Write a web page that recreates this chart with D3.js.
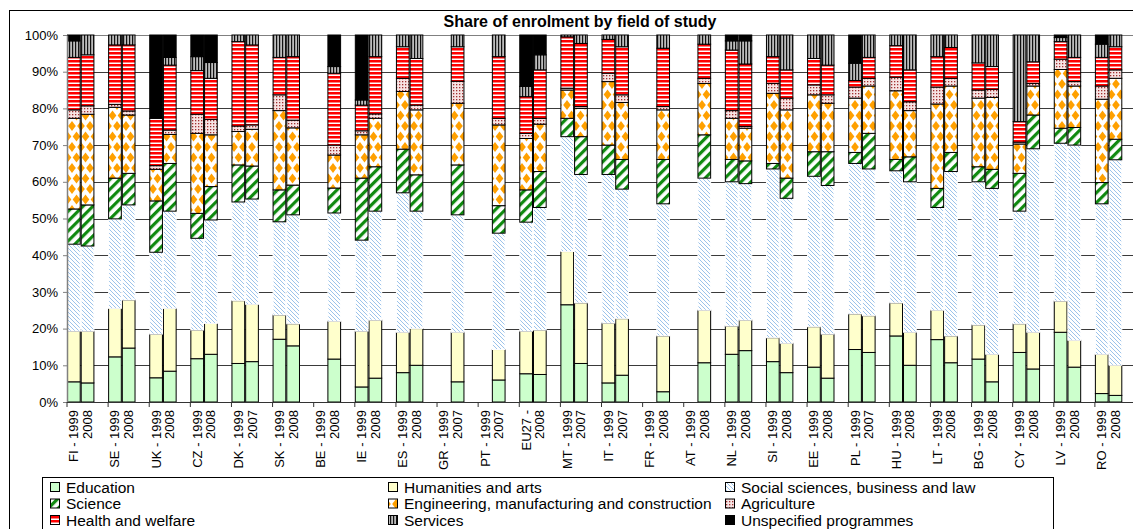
<!DOCTYPE html>
<html>
<head>
<meta charset="utf-8">
<script src="https://cdn.jsdelivr.net/npm/d3@7"></script>
<style>
  body { margin: 0; background: #fff; }
  text { font-family: "Liberation Sans", Arial, sans-serif; }
</style>
</head>
<body>
<div id="chart"></div>
<script>
// Countries, each with a 1999 bar and a latest-year bar (null = no data)
const countries = ["FI","SE","UK","CZ","DK","SK","BE","IE","ES","GR","PT","EU27","MT","IT","FR","AT","NL","SI","EE","PL","HU","LT","BG","CY","LV","RO"];
const labelsA = ["FI - 1999","SE - 1999","UK - 1999","CZ - 1999","DK - 1999","SK - 1999","BE - 1999","IE - 1999","ES - 1999","GR - 1999","PT - 1999","EU27 -","MT - 1999","IT - 1999","FR - 1999","AT - 1999","NL - 1999","SI - 1999","EE - 1999","PL - 1999","HU - 1999","LT - 1999","BG - 1999","CY - 1999","LV - 1999","RO - 1999"];
const labelsB = ["2008","2008","2008","2008","2007","2008","2008","2008","2008","2007","2007","2008","2007","2007","2008","2008","2008","2008","2008","2007","2008","2008","2008","2008","2008","2008"];

const fields = ["Education","Humanities and arts","Social sciences, business and law","Science","Engineering, manufacturing and construction","Agriculture","Health and welfare","Services","Unspecified programmes"];

// Shares in %, pairs per country: [1999, latest]
const education = [5.5,5.2, 12.3,14.7, 6.6,8.4, 11.8,13.0, 10.5,11.0, 17.1,15.3, null,11.7, 4.1,6.5, 8.0,10.0, null,5.5, null,6.0, 7.7,7.5, 26.5,10.5, 5.2,7.3, null,2.8, null,10.7, 13.0,14.0, 11.0,8.0, 9.5,6.5, 14.3,13.5, 18.0,10.0, 17.0,10.7, 11.7,5.5, 13.5,9.0, 19.0,9.5, 2.3,1.8];
const humanities = [13.8,14.1, 13.2,13.1, 11.9,17.1, 7.8,8.4, 17.1,15.6, 6.6,6.0, null,10.3, 15.2,15.8, 11.0,10.0, null,13.5, null,8.3, 11.6,12.1, 14.5,16.5, 16.3,15.4, null,15.2, null,14.3, 7.7,8.3, 6.5,8.0, 11.0,12.0, 9.7,10.0, 9.0,9.0, 8.0,7.3, 9.3,7.5, 7.8,10.0, 8.5,7.3, 10.7,8.2];
const social = [23.7,23.2, 24.4,25.9, 22.3,26.5, 25.0,28.2, 26.9,28.7, 25.4,29.7, null,29.5, 24.8,29.7, 38.0,32.0, null,32.0, null,31.7, 29.7,33.4, 31.3,35.0, 40.5,35.3, null,36.0, null,36.0, 39.3,37.2, 46.0,39.5, 41.0,40.5, 41.0,40.0, 36.0,41.0, 28.0,44.8, 39.0,45.2, 30.7,50.0, 43.0,53.2, 41.0,56.0];
const science = [9.6,11.2, 11.1,8.6, 14.0,13.0, 6.8,9.1, 10.1,9.0, 8.7,8.1, null,6.8, 16.9,12.1, 11.9,9.9, null,13.6, null,7.5, 8.8,9.8, 5.0,10.3, 8.0,8.1, null,12.1, null,11.8, 6.1,6.2, 1.5,5.5, 6.7,9.2, 3.0,9.7, 3.1,6.8, 5.2,5.2, 4.1,5.2, 10.3,9.2, 4.1,4.8, 5.8,5.6];
const engineering = [24.7,24.7, 19.3,15.9, 8.6,7.9, 21.8,14.1, 9.1,10.0, 21.6,15.6, null,9.0, 11.8,13.2, 15.7,17.7, null,16.8, null,22.0, 14.0,12.9, 7.7,7.7, 17.3,15.5, null,13.5, null,14.0, 11.2,8.9, 19.1,18.6, 15.5,13.2, 14.8,12.9, 18.7,12.6, 23.0,18.1, 18.7,19.6, 8.0,7.9, 16.0,11.3, 22.7,16.6];
const agriculture = [2.3,2.3, 0.8,1.1, 1.0,1.2, 5.2,4.2, 1.5,1.2, 4.3,2.1, null,2.7, 1.1,1.2, 3.6,1.3, null,6.0, null,1.8, 1.4,1.6, 0.5,0.5, 2.3,2.1, null,0.9, null,1.4, 2.1,0.5, 2.7,3.2, 2.7,2.3, 3.0,2.1, 3.7,2.4, 4.6,2.1, 2.2,2.2, 0.5,0.7, 2.8,1.2, 3.6,2.3];
const health = [14.3,13.9, 16.2,18.0, 12.9,17.7, 11.9,11.2, 23.0,21.8, 10.2,17.3, null,19.6, 7.0,15.6, 8.6,12.7, null,9.4, null,16.8, 10.0,13.2, 14.0,17.2, 9.2,13.1, null,15.9, null,9.3, 16.5,17.0, 7.3,7.7, 7.2,8.1, 1.8,5.7, 8.6,8.7, 8.3,8.4, 7.4,6.2, 5.6,5.9, 4.8,6.6, 7.8,6.3];
const services = [4.5,5.4, 2.7,2.7, 0,2.1, 3.8,4.3, 1.8,2.7, 6.1,5.9, null,1.8, 1.4,5.9, 3.2,6.4, null,3.2, null,5.9, 2.8,4.1, 0.5,2.3, 1.2,3.2, null,3.6, null,2.5, 2.5,6.3, 5.9,9.5, 6.4,8.2, 4.7,6.1, 2.9,9.5, 5.9,3.4, 7.6,8.6, 23.6,7.3, 1.1,6.1, 3.6,3.2];
const unspecified = [1.6,0, 0,0, 22.7,6.1, 5.9,7.5, 0,0, 0,0, null,8.6, 17.7,0, 0,0, null,0, null,0, 14.0,5.4, 0,0, 0,0, null,0, null,0, 1.6,1.6, 0,0, 0,0, 7.7,0, 0,0, 0,0, 0,0, 0,0, 0.7,0, 2.5,0];

const yTicks = [0,10,20,30,40,50,60,70,80,90,100];

const seriesValues = [education, humanities, social, science, engineering, agriculture, health, services, unspecified];

// Layout
const W = 1133, H = 529;
const plot = { left: 67, right: 1136, top: 35, bottom: 402 };

const svg = d3.select("#chart")
  .append("svg")
  .attr("width", W)
  .attr("height", H);

// Fill patterns (Excel style)
const defs = svg.append("defs");

let p = defs.append("pattern").attr("id", "p-soc").attr("patternUnits", "userSpaceOnUse")
  .attr("width", 4).attr("height", 4);
p.append("rect").attr("width", 4).attr("height", 4).attr("fill", "#fff");
p.append("path").attr("d", "M-1,-1 L5,5 M-1,3 L1,5 M3,-1 L5,1")
  .attr("stroke", "#9cc3ea").attr("stroke-width", 1);

p = defs.append("pattern").attr("id", "p-sci").attr("patternUnits", "userSpaceOnUse")
  .attr("width", 7).attr("height", 7).attr("patternTransform", "rotate(45)");
p.append("rect").attr("width", 7).attr("height", 7).attr("fill", "#fff");
p.append("rect").attr("width", 3.2).attr("height", 7).attr("fill", "#108a10");

p = defs.append("pattern").attr("id", "p-eng").attr("patternUnits", "userSpaceOnUse")
  .attr("width", 9).attr("height", 21);
p.append("rect").attr("width", 9).attr("height", 21).attr("fill", "#fff");
[[0,0],[9,0],[0,21],[9,21],[4.5,10.5]].forEach(c => {
  p.append("path")
    .attr("d", `M${c[0]},${c[1]-5} L${c[0]+3.8},${c[1]} L${c[0]},${c[1]+5} L${c[0]-3.8},${c[1]} Z`)
    .attr("fill", "#ffa000");
});

p = defs.append("pattern").attr("id", "p-agr").attr("patternUnits", "userSpaceOnUse")
  .attr("width", 3).attr("height", 3);
p.append("rect").attr("width", 3).attr("height", 3).attr("fill", "#f6e4e4");
p.append("rect").attr("width", 1.3).attr("height", 1.3).attr("fill", "#a03030");

p = defs.append("pattern").attr("id", "p-hea").attr("patternUnits", "userSpaceOnUse")
  .attr("width", 4).attr("height", 4);
p.append("rect").attr("width", 4).attr("height", 4).attr("fill", "#fff");
p.append("rect").attr("width", 4).attr("height", 2.5).attr("fill", "#ff0000");

p = defs.append("pattern").attr("id", "p-ser").attr("patternUnits", "userSpaceOnUse")
  .attr("width", 3).attr("height", 3);
p.append("rect").attr("width", 3).attr("height", 3).attr("fill", "#bdbdbd");
p.append("rect").attr("width", 1.2).attr("height", 3).attr("fill", "#111");

const fills = ["#ccffcc", "#ffffcc", "url(#p-soc)", "url(#p-sci)", "url(#p-eng)", "url(#p-agr)", "url(#p-hea)", "url(#p-ser)", "#000"];
const strokes = ["#000", "#000", "#fff", "#000", "#000", "#000", "#000", "#000", "#000"];

// Outer frame
svg.append("rect")
  .attr("x", 9.5).attr("y", 10.5)
  .attr("width", W + 20).attr("height", H + 20)
  .attr("fill", "none").attr("stroke", "#000");

// Title
svg.append("text")
  .attr("x", 580).attr("y", 27)
  .attr("text-anchor", "middle")
  .style("font-size", "16px")
  .style("font-weight", "bold")
  .text("Share of enrolment by field of study");

// Scales: three slots per country (1999, latest, gap)
const slots = [];
countries.forEach((c, i) => { slots.push(i + "-0", i + "-1", i + "-2"); });

const x = d3.scaleBand()
  .domain(slots)
  .range([plot.left, plot.right])
  .padding(0);

const y = d3.scaleLinear()
  .domain([0, 100])
  .range([plot.bottom, plot.top]);

// Gridlines
svg.append("g")
  .selectAll("line")
  .data(yTicks.filter(d => d > 0))
  .join("line")
  .attr("x1", plot.left).attr("x2", plot.right)
  .attr("y1", d => Math.round(y(d)) + 0.5).attr("y2", d => Math.round(y(d)) + 0.5)
  .attr("stroke", d => d === 100 ? "#808080" : "#3a3a3a")
  .attr("stroke-width", 1.2);

// Build rows for stacking
const rows = [];
countries.forEach((c, i) => {
  [0, 1].forEach(j => {
    if (education[2 * i + j] === null) return;
    const row = { slot: i + "-" + j };
    fields.forEach((f, k) => { row[f] = seriesValues[k][2 * i + j]; });
    rows.push(row);
  });
});

const stacked = d3.stack().keys(fields)(rows);

const bars = svg.append("g");
stacked.forEach((layer, k) => {
  bars.append("g")
    .selectAll("rect")
    .data(layer.filter(d => d[1] - d[0] > 0))
    .join("rect")
    .attr("x", d => x(d.data.slot) + 0.5)
    .attr("width", x.bandwidth() - 1)
    .attr("y", d => y(d[1]))
    .attr("height", d => y(d[0]) - y(d[1]))
    .attr("fill", fills[k])
    .attr("stroke", strokes[k])
    .attr("stroke-width", 1);
});

// Y axis
const yAxis = svg.append("g")
  .attr("transform", `translate(${plot.left},0)`)
  .call(d3.axisLeft(y).tickValues(yTicks).tickFormat(d => d + "%").tickSize(4).tickSizeOuter(0));
yAxis.select(".domain").attr("stroke", "#808080").attr("stroke-width", 1.5);
yAxis.selectAll(".tick line").attr("stroke", "#808080");
yAxis.selectAll(".tick text")
  .attr("x", -9)
  .style("font-size", "13px")
  .style("font-family", "'Liberation Sans', Arial, sans-serif")
  .attr("fill", "#000");

// X axis line and group ticks
svg.append("line")
  .attr("x1", plot.left).attr("x2", plot.right)
  .attr("y1", plot.bottom + 0.5).attr("y2", plot.bottom + 0.5)
  .attr("stroke", "#333").attr("stroke-width", 1.2);

svg.append("g")
  .selectAll("line")
  .data(countries)
  .join("line")
  .attr("x1", (d, i) => x(i + "-0")).attr("x2", (d, i) => x(i + "-0"))
  .attr("y1", plot.bottom).attr("y2", plot.bottom + 5)
  .attr("stroke", "#333");

// Category labels (rotated)
const xl = svg.append("g").style("font-size", "13px");
countries.forEach((c, i) => {
  [[labelsA[i], 0], [labelsB[i], 1]].forEach(([t, j]) => {
    const cx = x(i + "-" + j) + x.bandwidth() / 2;
    xl.append("text")
      .attr("transform", `translate(${cx + 4.5},${plot.bottom + 8}) rotate(-90)`)
      .attr("text-anchor", "end")
      .text(t);
  });
});

// Legend
const legend = svg.append("g");
legend.append("rect")
  .attr("x", 42.5).attr("y", 477.5)
  .attr("width", 1011).attr("height", 80)
  .attr("fill", "#fff").attr("stroke", "#000");

const legendCols = [50, 388, 725];
const legendRows = [487, 503.5, 520];
fields.forEach((f, k) => {
  const cx = legendCols[k % 3], cy = legendRows[Math.floor(k / 3)];
  legend.append("rect")
    .attr("x", cx + 0.5).attr("y", cy - 4.5)
    .attr("width", 9).attr("height", 9)
    .attr("fill", fills[k])
    .attr("stroke", "#000");
  legend.append("text")
    .attr("x", cx + 16).attr("y", cy + 5.5)
    .style("font-size", "15.5px")
    .text(f);
});
</script>
</body>
</html>
